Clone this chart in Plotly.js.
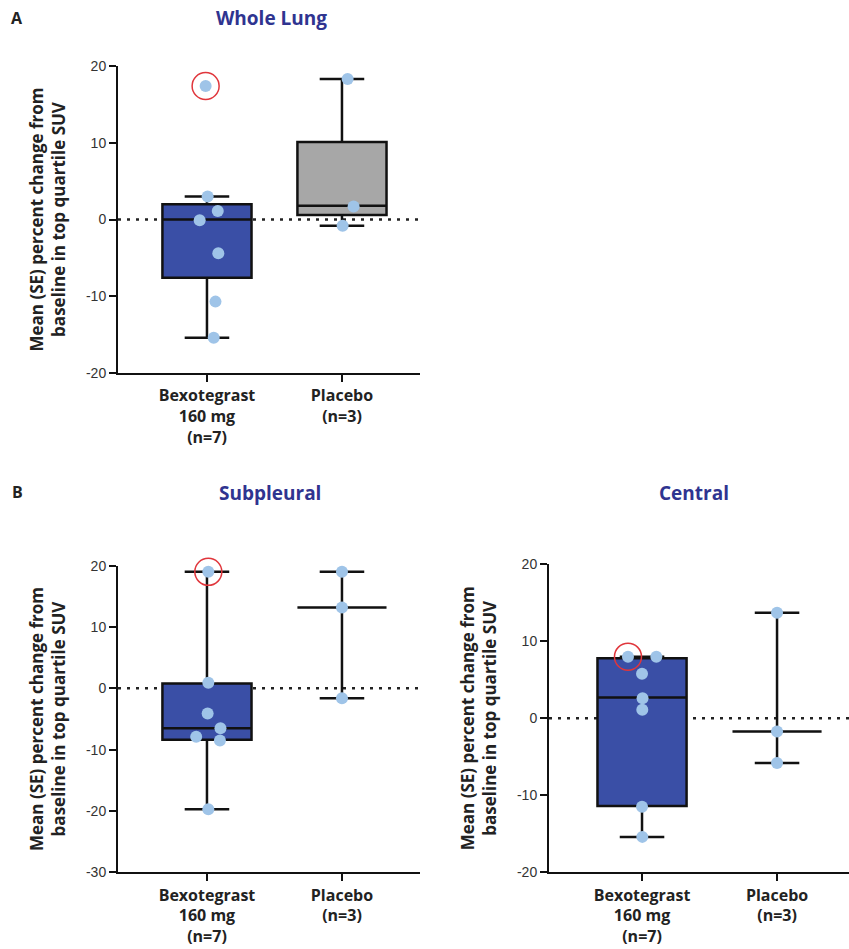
<!DOCTYPE html>
<html>
<head>
<meta charset="utf-8">
<script src="https://cdn.plot.ly/plotly-3.0.1.min.js"></script>
<style>html,body{margin:0;padding:0;background:#fff;}#chart{width:849px;height:949px;}</style>
</head>
<body>
<div id="chart"></div>
<script>
// ---------- data ----------
const categories = ["Bexotegrast<br>160 mg<br>(n=7)", "Placebo<br>(n=3)"];
const panelTitles = ["Whole Lung", "Subpleural", "Central"];
const yTitle = "Mean (SE) percent change from<br>baseline in top quartile SUV";

// Whole lung: box statistics [Bexotegrast, Placebo]
const wlLower = [-15.4, -0.8];
const wlQ1 = [-7.6, 0.6];
const wlMedian = [0.0, 1.8];
const wlQ3 = [2.0, 10.1];
const wlUpper = [3.0, 18.3];
const wlBexoPts = [17.4, 3.0, 1.1, -0.1, -4.4, -10.7, -15.4];
const wlBexoJitter = [-0.01, 0.005, 0.08, -0.054, 0.084, 0.063, 0.05];
const wlPlaPts = [18.3, 1.7, -0.8];
const wlPlaJitter = [0.042, 0.086, 0.005];
const wlHighlight = 0;

// Subpleural
const spLower = [-19.7, -1.6];
const spQ1 = [-8.4, 13.2];
const spMedian = [-6.5, 13.2];
const spQ3 = [0.8, 13.2];
const spUpper = [19.0, 19.0];
const spBexoPts = [19.0, 0.9, -4.1, -6.5, -7.9, -8.5, -19.7];
const spBexoJitter = [0.01, 0.01, 0.005, 0.1, -0.08, 0.096, 0.01];
const spPlaPts = [19.0, 13.2, -1.6];
const spPlaJitter = [0, 0, 0];
const spHighlight = 0;

// Central
const ceLower = [-15.4, -5.8];
const ceQ1 = [-11.4, -1.7];
const ceMedian = [2.7, -1.7];
const ceQ3 = [7.8, -1.7];
const ceUpper = [8.0, 13.7];
const ceBexoPts = [8.0, 8.0, 5.8, 2.6, 1.1, -11.5, -15.4];
const ceBexoJitter = [-0.104, 0.106, 0, 0.004, 0.002, 0, 0.002];
const cePlaPts = [13.7, -1.7, -5.8];
const cePlaJitter = [0, 0, 0];
const ceHighlight = 0;

const yTicksA = [-20, -10, 0, 10, 20];
const yTicksSP = [-30, -20, -10, 0, 10, 20];
const yTicksCE = [-20, -10, 0, 10, 20];

// ---------- styles ----------
const BLUE = "#3a4fa6";
const GRAY = "#a7a7a7";
const DOT = "#9fc4e8";
const RED = "#e0363c";
const TITLE_BLUE = "#2f3490";
const BOLD_FONT = "'Open Sans', 'Noto Sans', sans-serif";
const TICK_FONT = "'Liberation Sans', Arial, sans-serif";

const traces = [];
function addPanel(ax, lower, q1, med, q3, upper, bexoPts, bexoJit, plaPts, plaJit, hi) {
  const xa = "x" + ax, ya = "y" + ax;
  const fills = [BLUE, GRAY];
  for (let i = 0; i < 2; i++) {
    traces.push({
      type: "box", x: [i], q1: [q1[i]], median: [med[i]], q3: [q3[i]],
      lowerfence: [lower[i]], upperfence: [upper[i]],
      width: 0.66, whiskerwidth: 0.5, boxpoints: false,
      fillcolor: fills[i], line: {color: "#111", width: 2.5},
      xaxis: xa, yaxis: ya, hoverinfo: "skip"
    });
  }
  traces.push({
    type: "scatter", mode: "markers",
    x: bexoPts.map((v, k) => 0 + bexoJit[k]), y: bexoPts,
    marker: {color: DOT, size: 12}, xaxis: xa, yaxis: ya, cliponaxis: false
  });
  traces.push({
    type: "scatter", mode: "markers",
    x: plaPts.map((v, k) => 1 + plaJit[k]), y: plaPts,
    marker: {color: DOT, size: 12}, xaxis: xa, yaxis: ya, cliponaxis: false
  });
  traces.push({
    type: "scatter", mode: "markers",
    x: [0 + bexoJit[hi]], y: [bexoPts[hi]],
    marker: {color: RED, size: 27, symbol: "circle-open", line: {color: RED, width: 1.5}},
    xaxis: xa, yaxis: ya, cliponaxis: false
  });
}
addPanel("", wlLower, wlQ1, wlMedian, wlQ3, wlUpper, wlBexoPts, wlBexoJitter, wlPlaPts, wlPlaJitter, wlHighlight);
addPanel("2", spLower, spQ1, spMedian, spQ3, spUpper, spBexoPts, spBexoJitter, spPlaPts, spPlaJitter, spHighlight);
addPanel("3", ceLower, ceQ1, ceMedian, ceQ3, ceUpper, ceBexoPts, ceBexoJitter, cePlaPts, cePlaJitter, ceHighlight);

const W = 849, H = 949;
const px = v => v / W, py = v => 1 - v / H;

function xAxis(domain, range, anchor) {
  return {
    domain: domain, range: range, anchor: anchor,
    tickvals: [0, 1], ticktext: categories,
    showline: true, linecolor: "#111", linewidth: 2,
    ticks: "outside", ticklen: 7, tickwidth: 2, tickcolor: "#111",
    ticklabelstandoff: 0,
    showgrid: false, zeroline: false, fixedrange: true,
    tickfont: {family: BOLD_FONT, size: 16, color: "#222", weight: "bold"}
  };
}
function yAxis(domain, range, ticks, anchor) {
  return {
    domain: domain, range: range, anchor: anchor,
    tickvals: ticks, ticktext: ticks.map(String),
    showline: true, linecolor: "#111", linewidth: 2,
    ticks: "outside", ticklen: 7, tickwidth: 2, tickcolor: "#111",
    showgrid: false, zeroline: false, fixedrange: true,
    tickfont: {family: TICK_FONT, size: 14, color: "#333"},
    title: {text: yTitle, font: {family: BOLD_FONT, size: 17, color: "#222", weight: "bold"}, standoff: 16}
  };
}

const zeroLine = (xr, yr) => ({
  type: "line", xref: xr + " domain", yref: yr, x0: 0, x1: 1, y0: 0, y1: 0,
  line: {color: "#222", width: 2.5, dash: "3px,6px"}, layer: "below"
});

const titleAnn = (t, x, y) => ({
  text: t, x: px(x), y: py(y), xref: "paper", yref: "paper", showarrow: false,
  xanchor: "center", yanchor: "middle", font: {family: BOLD_FONT, size: 19, color: TITLE_BLUE, weight: "bold"}
});
const letterAnn = (t, x, y) => ({
  text: t, x: px(x), y: py(y), xref: "paper", yref: "paper", showarrow: false,
  xanchor: "center", yanchor: "middle", font: {family: BOLD_FONT, size: 16, color: "#222", weight: "bold"}
});

const layout = {
  width: W, height: H, margin: {l: 0, r: 0, t: 0, b: 0},
  paper_bgcolor: "#fff", plot_bgcolor: "rgba(0,0,0,0)", showlegend: false,
  xaxis: xAxis([px(118), px(420)], [-0.659, 1.578], "y"),
  yaxis: yAxis([py(373), py(66)], [-20, 20], yTicksA, "x"),
  xaxis2: xAxis([px(118), px(420)], [-0.659, 1.578], "y2"),
  yaxis2: yAxis([py(872.3), py(565.7)], [-30, 20], yTicksSP, "x2"),
  xaxis3: xAxis([px(549), px(849)], [-0.689, 1.533], "y3"),
  yaxis3: yAxis([py(872.3), py(564.3)], [-20, 20], yTicksCE, "x3"),
  shapes: [zeroLine("x", "y"), zeroLine("x2", "y2"), zeroLine("x3", "y3")],
  annotations: [
    titleAnn(panelTitles[0], 271, 18),
    titleAnn(panelTitles[1], 270, 493),
    titleAnn(panelTitles[2], 694, 493),
    letterAnn("A", 17, 18),
    letterAnn("B", 17, 492)
  ]
};

Plotly.newPlot("chart", traces, layout, {staticPlot: true, displayModeBar: false});
</script>
</body>
</html>
